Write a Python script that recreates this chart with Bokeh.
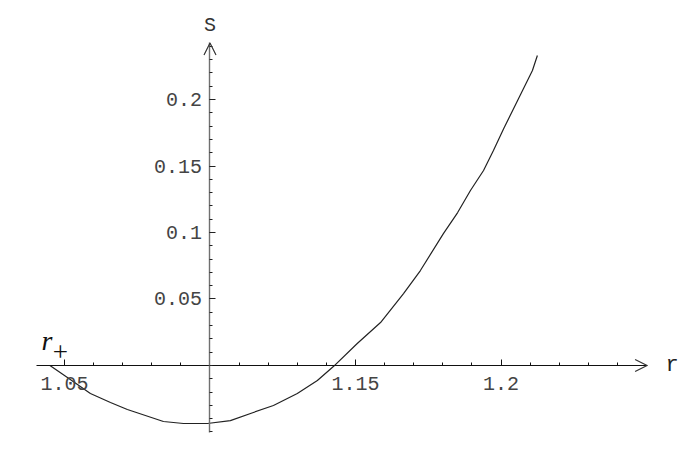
from bokeh.plotting import figure
from bokeh.models import (Range1d, FixedTicker, Arrow, OpenHead, Label)
from bokeh.embed import file_html
from bokeh.resources import INLINE

# ---- data ----
r_vals = [1.0450, 1.0510, 1.0589, 1.0658, 1.0716, 1.0840, 1.0909, 1.0991,
          1.1070, 1.1149, 1.1218, 1.1300, 1.1369, 1.1424, 1.1506, 1.1586,
          1.1665, 1.1723, 1.1802, 1.1851, 1.1895, 1.1940, 1.1974, 1.2009,
          1.2043, 1.2108, 1.2125]
s_vals = [0.0000, -0.0090, -0.0211, -0.0278, -0.0331, -0.0421, -0.0436, -0.0436,
          -0.0414, -0.0353, -0.0301, -0.0211, -0.0113, -0.0008, 0.0165, 0.0323,
          0.0541, 0.0714, 0.0992, 0.1150, 0.1316, 0.1466, 0.1617, 0.1780,
          0.1930, 0.2218, 0.2331]

x_major = [1.05, 1.15, 1.2]
x_major_labels = ["1.05", "1.15", "1.2"]
x_minor = [round(1.05 + 0.01 * i, 2) for i in range(0, 20)]
y_major = [0.05, 0.1, 0.15, 0.2]
y_major_labels = ["0.05", "0.1", "0.15", "0.2"]
y_minor = [round(-0.05 + 0.01 * i, 2) for i in range(0, 30)]

X_ORIGIN = 1.1
Y_ORIGIN = 0.0

p = figure(width=680, height=433, output_backend="svg", toolbar_location=None,
           x_range=Range1d(1.02801, 1.26168), y_range=Range1d(-0.05113, 0.27444),
           min_border=0, min_border_left=0, min_border_right=0,
           min_border_top=0, min_border_bottom=0)
p.outline_line_color = None
p.grid.visible = False
p.background_fill_color = "white"

mono = "Liberation Mono"

# x axis
xa = p.xaxis[0]
xa.fixed_location = Y_ORIGIN
xa.bounds = (1.0404, 1.2502)
xa.ticker = FixedTicker(ticks=x_major, minor_ticks=x_minor)
xa.major_label_overrides = {t: l for t, l in zip(x_major, x_major_labels)}
xa.axis_line_color = "#111111"
xa.axis_line_width = 1.2
xa.major_tick_in = 6
xa.major_tick_out = 0
xa.minor_tick_in = 3
xa.minor_tick_out = 0
xa.major_tick_line_color = "#111111"
xa.minor_tick_line_color = "#111111"
xa.major_label_standoff = 12
xa.major_label_text_font = mono
xa.major_label_text_font_size = "20px"
xa.major_label_text_color = "#444444"

# y axis
ya = p.yaxis[0]
ya.fixed_location = X_ORIGIN
ya.bounds = (-0.0504, 0.2425)
ya.ticker = FixedTicker(ticks=y_major, minor_ticks=y_minor)
ya.major_label_overrides = {t: l for t, l in zip(y_major, y_major_labels)}
ya.axis_line_color = "#707070"
ya.axis_line_width = 1.4
ya.major_tick_in = 6
ya.major_tick_out = 0
ya.minor_tick_in = 3
ya.minor_tick_out = 0
ya.major_tick_line_color = "#222222"
ya.minor_tick_line_color = "#222222"
ya.major_label_standoff = 8
ya.major_label_text_font = mono
ya.major_label_text_font_size = "20px"
ya.major_label_text_color = "#444444"
ya.major_label_orientation = "horizontal"

# arrow heads
p.add_layout(Arrow(end=OpenHead(size=12, line_color="#333333", line_width=1.2),
                   x_start=1.24, y_start=Y_ORIGIN, x_end=1.2502, y_end=Y_ORIGIN,
                   line_alpha=0))
p.add_layout(Arrow(end=OpenHead(size=12, line_color="#333333", line_width=1.2),
                   x_start=X_ORIGIN, y_start=0.23, x_end=X_ORIGIN, y_end=0.2425,
                   line_alpha=0))

# curve
p.line(r_vals, s_vals, line_color="#222222", line_width=1.2)

# axis labels
p.add_layout(Label(x=1.2588, y=Y_ORIGIN, text="r", text_font=mono,
                   text_font_size="22px", text_align="center",
                   text_baseline="middle", text_color="#222222"))
p.add_layout(Label(x=X_ORIGIN, y=0.2556, text="S", text_font=mono,
                   text_font_size="20px", text_align="center",
                   text_baseline="middle", text_color="#333333"))

# r_+ marker label
p.add_layout(Label(x=1.0421, y=0.0188, text="r", text_font="Liberation Serif",
                   text_font_style="italic", text_font_size="28px",
                   text_align="left", text_baseline="alphabetic",
                   text_color="#111111"))
p.add_layout(Label(x=1.0486, y=0.0100, text="+", text_font="Liberation Serif",
                   text_font_size="27px", text_align="center",
                   text_baseline="middle", text_color="#111111"))

open("out.html", "w").write(file_html(p, INLINE))
